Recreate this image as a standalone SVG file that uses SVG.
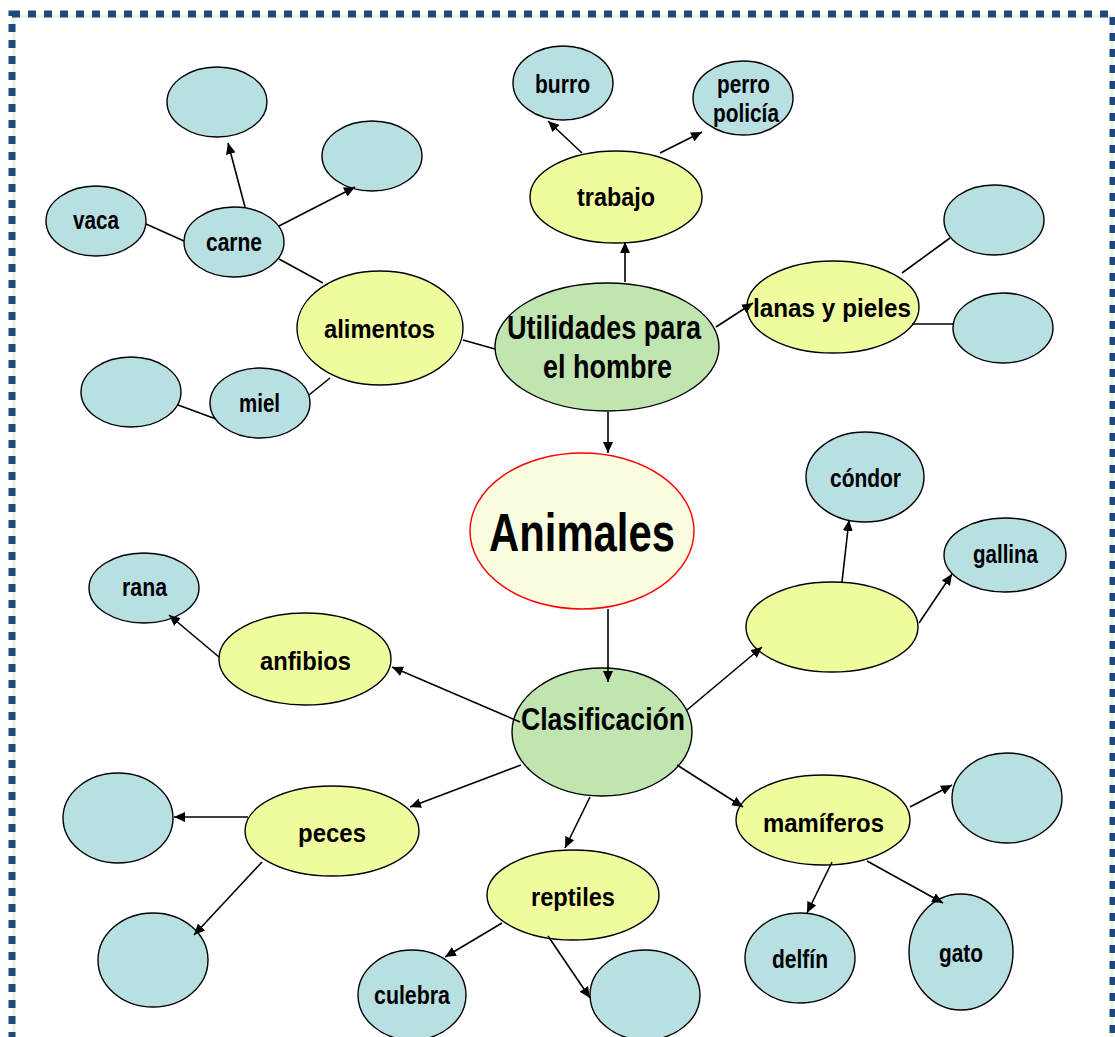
<svg xmlns="http://www.w3.org/2000/svg" width="1115" height="1037" viewBox="0 0 1115 1037">
<defs>
<marker id="ah" markerUnits="userSpaceOnUse" markerWidth="12" markerHeight="10" refX="11" refY="5" orient="auto">
<path d="M0,0 L11,5 L0,10 Z" fill="#000"/>
</marker>
<style>
.b{fill:#B8DFE2;stroke:#000;stroke-width:1.4}
.y{fill:#F0FB9E;stroke:#000;stroke-width:1.4}
.g{fill:#C0E5B1;stroke:#000;stroke-width:1.4}
.t{font-family:"Liberation Sans",Arial,sans-serif;font-weight:bold;text-anchor:middle;fill:#000}
.c line{stroke:#000;stroke-width:1.6}
.a{marker-end:url(#ah)}
</style>
</defs>
<rect width="1115" height="1037" fill="#fff"/>
<g id="border">
<rect x="14" y="16" width="1098" height="1100" fill="none" stroke="#EAF1DD" stroke-width="3"/>
<rect x="12" y="14" width="1101" height="1100" fill="none" stroke="#1F497D" stroke-width="7" stroke-dasharray="8 8"/>
</g>
<g id="n-empty1"><ellipse class="b" cx="217" cy="102" rx="50" ry="35"/></g>
<g id="n-empty2"><ellipse class="b" cx="372" cy="156" rx="50" ry="35"/></g>
<g id="n-vaca"><ellipse class="b" cx="96" cy="221" rx="50" ry="35"/><text class="t" x="96" y="229" font-size="25" textLength="46" lengthAdjust="spacingAndGlyphs">vaca</text></g>
<g id="n-carne"><ellipse class="b" cx="234" cy="242" rx="50" ry="35"/><text class="t" x="234" y="251" font-size="25" textLength="56" lengthAdjust="spacingAndGlyphs">carne</text></g>
<g id="n-empty3"><ellipse class="b" cx="131" cy="392" rx="50" ry="35"/></g>
<g id="n-miel"><ellipse class="b" cx="260" cy="403" rx="50" ry="35"/><text class="t" x="259.5" y="412" font-size="25" textLength="41" lengthAdjust="spacingAndGlyphs">miel</text></g>
<g id="n-alimentos"><ellipse class="y" cx="380" cy="328" rx="83" ry="57"/><text class="t" x="379.5" y="338" font-size="26" textLength="111" lengthAdjust="spacingAndGlyphs">alimentos</text></g>
<g id="n-utilidades"><ellipse class="g" cx="607" cy="347" rx="112" ry="64"/><text class="t" x="604" y="339" font-size="33" textLength="194" lengthAdjust="spacingAndGlyphs">Utilidades para</text><text class="t" x="607.5" y="378" font-size="33" textLength="129" lengthAdjust="spacingAndGlyphs">el hombre</text></g>
<g id="n-trabajo"><ellipse class="y" cx="616" cy="197" rx="86" ry="46"/><text class="t" x="616" y="206" font-size="26" textLength="78" lengthAdjust="spacingAndGlyphs">trabajo</text></g>
<g id="n-burro"><ellipse class="b" cx="563" cy="83" rx="50" ry="37"/><text class="t" x="562.5" y="93" font-size="25" textLength="55" lengthAdjust="spacingAndGlyphs">burro</text></g>
<g id="n-perro"><ellipse class="b" cx="743" cy="98" rx="50" ry="37"/><text class="t" x="743.5" y="93" font-size="25" textLength="53" lengthAdjust="spacingAndGlyphs">perro</text><text class="t" x="746" y="122" font-size="25" textLength="66" lengthAdjust="spacingAndGlyphs">policía</text></g>
<g id="n-lanas"><ellipse class="y" cx="833" cy="307" rx="86" ry="46"/><text class="t" x="832" y="317" font-size="26" textLength="158" lengthAdjust="spacingAndGlyphs">lanas y pieles</text></g>
<g id="n-empty4"><ellipse class="b" cx="994" cy="220" rx="50" ry="35"/></g>
<g id="n-empty5"><ellipse class="b" cx="1003" cy="328" rx="50" ry="35"/></g>
<g id="n-animales"><ellipse cx="582" cy="531" rx="112" ry="78" fill="#FBFCE0" stroke="#FF0000" stroke-width="1.4"/><text class="t" x="582" y="551" font-size="53" textLength="186" lengthAdjust="spacingAndGlyphs">Animales</text></g>
<g id="n-clasificacion"><ellipse class="g" cx="602" cy="732" rx="90" ry="64"/><text class="t" x="603" y="730" font-size="32" textLength="164" lengthAdjust="spacingAndGlyphs">Clasificación</text></g>
<g id="n-condor"><ellipse class="b" cx="865" cy="477" rx="59" ry="45"/><text class="t" x="865.5" y="487" font-size="25" textLength="71" lengthAdjust="spacingAndGlyphs">cóndor</text></g>
<g id="n-gallina"><ellipse class="b" cx="1005" cy="555" rx="61" ry="37"/><text class="t" x="1005.5" y="563" font-size="25" textLength="65" lengthAdjust="spacingAndGlyphs">gallina</text></g>
<g id="n-aves"><ellipse class="y" cx="832" cy="627" rx="86" ry="45"/></g>
<g id="n-rana"><ellipse class="b" cx="144" cy="588" rx="55" ry="35"/><text class="t" x="144.5" y="596" font-size="25" textLength="45" lengthAdjust="spacingAndGlyphs">rana</text></g>
<g id="n-anfibios"><ellipse class="y" cx="305" cy="659" rx="86" ry="46"/><text class="t" x="305.5" y="670" font-size="26" textLength="91" lengthAdjust="spacingAndGlyphs">anfibios</text></g>
<g id="n-peces"><ellipse class="y" cx="332" cy="831" rx="87" ry="45"/><text class="t" x="332" y="842" font-size="26" textLength="68" lengthAdjust="spacingAndGlyphs">peces</text></g>
<g id="n-empty6"><ellipse class="b" cx="118" cy="818" rx="55" ry="45"/></g>
<g id="n-empty7"><ellipse class="b" cx="153" cy="960" rx="55" ry="47"/></g>
<g id="n-reptiles"><ellipse class="y" cx="573" cy="895" rx="86" ry="45"/><text class="t" x="573" y="906" font-size="26" textLength="84" lengthAdjust="spacingAndGlyphs">reptiles</text></g>
<g id="n-culebra"><ellipse class="b" cx="412" cy="995" rx="54" ry="45"/><text class="t" x="412" y="1004" font-size="25" textLength="76" lengthAdjust="spacingAndGlyphs">culebra</text></g>
<g id="n-empty8"><ellipse class="b" cx="645" cy="995" rx="55" ry="45"/></g>
<g id="n-mamiferos"><ellipse class="y" cx="823" cy="820" rx="87" ry="45"/><text class="t" x="823.5" y="832" font-size="26" textLength="121" lengthAdjust="spacingAndGlyphs">mamíferos</text></g>
<g id="n-empty9"><ellipse class="b" cx="1007" cy="798" rx="55" ry="45"/></g>
<g id="n-delfin"><ellipse class="b" cx="800" cy="958" rx="55" ry="45"/><text class="t" x="800" y="968" font-size="25" textLength="56" lengthAdjust="spacingAndGlyphs">delfín</text></g>
<g id="n-gato"><ellipse class="b" cx="961" cy="952" rx="52" ry="58"/><text class="t" x="961" y="962" font-size="25" textLength="44" lengthAdjust="spacingAndGlyphs">gato</text></g>
<g class="c" id="connectors">
<line class="a" x1="625" y1="282" x2="625" y2="242"/>
<line class="a" x1="582" y1="153" x2="548" y2="121"/>
<line class="a" x1="660" y1="153" x2="702" y2="132"/>
<line class="a" x1="716" y1="327" x2="753" y2="303"/>
<line x1="902" y1="273" x2="950" y2="238"/>
<line x1="912" y1="324" x2="953" y2="324"/>
<line x1="463" y1="340" x2="495" y2="349"/>
<line x1="279" y1="259" x2="323" y2="283"/>
<line x1="309" y1="395" x2="330" y2="378"/>
<line x1="146" y1="224" x2="184" y2="241"/>
<line x1="178" y1="405" x2="216" y2="419"/>
<line class="a" x1="245" y1="207" x2="228" y2="143"/>
<line class="a" x1="279" y1="226" x2="355" y2="187"/>
<line class="a" x1="608" y1="412" x2="608" y2="453"/>
<line class="a" x1="608" y1="609" x2="608" y2="682"/>
<line class="a" x1="520" y1="722" x2="392" y2="667"/>
<line class="a" x1="219" y1="657" x2="169" y2="615"/>
<line class="a" x1="521" y1="765" x2="410" y2="807"/>
<line class="a" x1="248" y1="817" x2="174" y2="817"/>
<line class="a" x1="262" y1="862" x2="194" y2="935"/>
<line class="a" x1="590" y1="797" x2="565" y2="848"/>
<line class="a" x1="502" y1="923" x2="445" y2="957"/>
<line class="a" x1="548" y1="936" x2="590" y2="998"/>
<line class="a" x1="677" y1="765" x2="743" y2="807"/>
<line class="a" x1="910" y1="807" x2="952" y2="785"/>
<line class="a" x1="832" y1="862" x2="807" y2="913"/>
<line class="a" x1="867" y1="861" x2="943" y2="903"/>
<line class="a" x1="687" y1="710" x2="762" y2="647"/>
<line class="a" x1="842" y1="582" x2="849" y2="520"/>
<line class="a" x1="919" y1="623" x2="952" y2="574"/>
</g>
</svg>
